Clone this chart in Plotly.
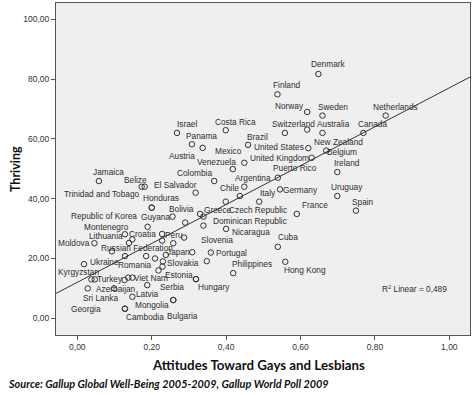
import numpy as np
import plotly.graph_objects as go

# ---- data ----
countries = [
    "Denmark", "Finland", "Norway", "Sweden", "Netherlands", "Switzerland", "Australia",
    "New Zealand", "Canada", "Brazil", "United States", "Belgium", "United Kingdom", "Ireland",
    "Puerto Rico", "Argentina", "Chile", "Italy", "Germany", "Uruguay", "Spain", "France",
    "Czech Republic", "Greece", "Dominican Republic", "Slovenia", "Bolivia", "Nicaragua", "Cuba",
    "Hong Kong", "Philippines", "Portugal", "Japan", "Slovakia", "Estonia", "Hungary", "Peru",
    "Croatia", "Lithuania", "Montenegro", "Republic of Korea", "Guyana", "Honduras", "Belize",
    "Trinidad and Tobago", "Jamaica", "El Salvador", "Colombia", "Venezuela", "Mexico", "Austria",
    "Panama", "Israel", "Costa Rica", "Serbia", "Latvia", "Azerbaijan", "Sri Lanka", "Georgia",
    "Cambodia", "Mongolia", "Bulgaria", "Turkey", "Viet Nam", "Romania", "Ukraine", "Kyrgyzstan",
    "Moldova", "Russian Federation",
]
attitudes = [
    0.648, 0.538, 0.618, 0.659, 0.829, 0.558, 0.618,
    0.659, 0.769, 0.459, 0.621, 0.669, 0.630, 0.699,
    0.539, 0.449, 0.437, 0.489, 0.545, 0.699, 0.749, 0.590,
    0.399, 0.330, 0.339, 0.339, 0.290, 0.400, 0.539,
    0.559, 0.419, 0.359, 0.309, 0.348, 0.319, 0.319, 0.228,
    0.148, 0.128, 0.189, 0.200, 0.256, 0.200, 0.173,
    0.181, 0.058, 0.318, 0.368, 0.418, 0.449, 0.337,
    0.308, 0.268, 0.399, 0.188, 0.148, 0.028, 0.099, 0.128,
    0.128, 0.258, 0.258, 0.047, 0.148, 0.185, 0.128, 0.018,
    0.046, 0.093,
]
thriving = [
    81.7, 74.9, 69.0, 67.8, 67.8, 62.0, 63.1,
    62.0, 62.0, 58.0, 56.9, 56.1, 53.7, 48.9,
    47.0, 44.0, 40.9, 39.0, 43.1, 40.9, 36.0, 34.9,
    39.0, 34.9, 34.0, 31.0, 32.0, 29.9, 23.9,
    18.9, 15.1, 22.0, 22.1, 19.1, 13.1, 13.1, 28.2,
    26.4, 28.1, 30.6, 37.0, 34.0, 37.0, 44.0,
    44.0, 45.9, 42.0, 45.9, 49.9, 52.0, 57.0,
    58.2, 62.0, 62.9, 11.1, 7.2, 10.0, 10.0, 3.2,
    3.2, 6.1, 6.1, 13.0, 13.6, 20.8, 20.8, 18.1,
    25.1, 22.4,
]
# cases whose labels are hidden in the reference
unlabeled_attitudes = [0.209, 0.238, 0.230, 0.229, 0.218, 0.287, 0.228, 0.258, 0.139, 0.038, 0.137, 0.127]
unlabeled_thriving = [20.0, 21.2, 19.0, 17.3, 16.0, 27.0, 26.0, 25.1, 25.2, 13.0, 13.6, 12.8]

x_tick_values = [0.0, 0.2, 0.4, 0.6, 0.8, 1.0]
x_tick_labels = ["0,00", "0,20", "0,40", "0,60", "0,80", "1,00"]
y_tick_values = [0, 20, 40, 60, 80, 100]
y_tick_labels = ["0,00", "20,00", "40,00", "60,00", "80,00", "100,00"]
r_squared = 0.489

# ---- label placement (pixel offsets from each marker) ----
label_offsets = {
    "Denmark": (10, 9.7), "Finland": (10, 9), "Norway": (-17.3, 6.3), "Sweden": (10.4, 9),
    "Netherlands": (9.3, 9), "Switzerland": (9, 9), "Australia": (26, 5.7),
    "New Zealand": (16, -8.7), "Canada": (9.4, 9), "Brazil": (9.7, 8.3),
    "United States": (-29.3, 1.6), "Belgium": (15.7, -1), "United Kingdom": (-31.7, 0),
    "Ireland": (9.4, 8.7), "Puerto Rico": (17.3, 9.4), "Argentina": (9, 9), "Chile": (-10, 7.7),
    "Italy": (9, 9), "Germany": (20, -0.7), "Uruguay": (9.4, 9.3), "Spain": (7.3, 9),
    "France": (18.3, 9), "Czech Republic": (32.6, -8.3), "Greece": (18.3, 4),
    "Dominican Republic": (46.7, -4.3), "Slovenia": (14, -14.3), "Bolivia": (-3.3, 13.4),
    "Nicaragua": (24.5, -3.3), "Cuba": (10.6, 9.4), "Hong Kong": (19.7, -8.3),
    "Philippines": (18.7, 9.3), "Portugal": (21, -0.2), "Japan": (-13.3, 0.6),
    "Slovakia": (-23.4, -2), "Estonia": (-17.2, 4), "Hungary": (18.2, -8.3), "Peru": (12, -1),
    "Croatia": (10, 5.2), "Lithuania": (-19.2, -1.4), "Montenegro": (-41, 0),
    "Republic of Korea": (-47.9, -8), "Guyana": (-17.4, 0), "Honduras": (8.8, 10),
    "Belize": (-5.8, 6.7), "Trinidad and Tobago": (-42.8, -7.6), "Jamaica": (9.3, 9),
    "El Salvador": (-20.4, 7.7), "Colombia": (-19.3, 7.7), "Venezuela": (-16, 7),
    "Mexico": (-16, 12), "Austria": (-20.5, -8.3), "Panama": (9.6, 8), "Israel": (10, 9),
    "Costa Rica": (9.3, 8.6), "Serbia": (24.4, -2.3), "Latvia": (15, 2.4),
    "Azerbaijan": (28.3, -1), "Sri Lanka": (-13.7, -10), "Georgia": (-39.2, -0.6),
    "Cambodia": (20, -8), "Mongolia": (-21.6, -5), "Bulgaria": (9.2, -16),
    "Turkey": (15, 0), "Viet Nam": (18.7, 0), "Romania": (-11, -9), "Ukraine": (-20, -6.3),
    "Kyrgyzstan": (-5.7, -7.4), "Moldova": (-20.3, 0), "Russian Federation": (24.7, 3.8),
}

all_x = np.array(attitudes + unlabeled_attitudes)
all_y = np.array(thriving + unlabeled_thriving)
slope, intercept = np.polyfit(all_x, all_y, 1)

x_range = [-0.0573, 1.0556]
y_range = [-5.59, 105.45]

fig = go.Figure()
fit_x = np.array(x_range)
fig.add_trace(go.Scatter(
    x=fit_x, y=intercept + slope * fit_x, mode="lines",
    line=dict(color="#333333", width=1), hoverinfo="skip",
))
fig.add_trace(go.Scatter(
    x=all_x, y=all_y, mode="markers",
    marker=dict(symbol="circle-open", size=5.5, color="#333333", line=dict(width=1)),
    hoverinfo="skip",
))

label_font = dict(family="Liberation Sans, Arial, sans-serif", size=8.3, color="#2e2e2e")
annotations = []
for name, xv, yv in zip(countries, attitudes, thriving):
    dx, dy = label_offsets[name]
    annotations.append(dict(
        x=xv, y=yv, xref="x", yref="y", text=name, showarrow=False,
        xanchor="center", yanchor="middle", xshift=dx, yshift=dy, font=label_font,
    ))

annotations.append(dict(
    x=0.867, y=0.1377, xref="paper", yref="paper",
    text="R<sup>2</sup> Linear = " + f"{r_squared:.3f}".replace(".", ","),
    showarrow=False, xanchor="center", yanchor="middle", font=label_font,
))
annotations.append(dict(
    x=-0.099, y=0.5, xref="paper", yref="paper", text="<b>Thriving</b>", textangle=-90,
    showarrow=False, xanchor="center", yanchor="middle",
    font=dict(family="Lato, sans-serif", size=12.5, color="#111111"),
))
annotations.append(dict(
    x=0.49, y=-0.0904, xref="paper", yref="paper", text="<b>Attitudes Toward Gays and Lesbians</b>",
    showarrow=False, xanchor="center", yanchor="middle",
    font=dict(family="Lato, sans-serif", size=13.3, color="#111111"),
))
annotations.append(dict(
    x=-0.1208, y=-0.1455, xref="paper", yref="paper",
    text="<b><i>Source: Gallup Global Well-Being 2005-2009, Gallup World Poll 2009</i></b>",
    showarrow=False, xanchor="left", yanchor="middle",
    font=dict(family="Lato, sans-serif", size=10.9, color="#111111"),
))

tick_font = dict(family="Liberation Sans, Arial, sans-serif", size=8.5, color="#333333")
axis_common = dict(
    showgrid=False, zeroline=False, showline=True, linecolor="#555555", linewidth=1, mirror=True,
    ticks="outside", ticklen=4, tickcolor="#555555", tickwidth=1, tickfont=tick_font,
)
fig.update_layout(
    width=474, height=395,
    margin=dict(l=56, r=4, t=3, b=60),
    paper_bgcolor="white", plot_bgcolor="#efefef",
    showlegend=False,
    annotations=annotations,
    xaxis=dict(range=x_range, tickvals=x_tick_values, ticktext=x_tick_labels, **axis_common),
    yaxis=dict(range=y_range, tickvals=y_tick_values, ticktext=y_tick_labels, **axis_common),
)
fig.write_html(
    "out.html",
    config={"displayModeBar": False},
    post_script="document.body.style.margin='0';document.body.style.padding='0';",
)
